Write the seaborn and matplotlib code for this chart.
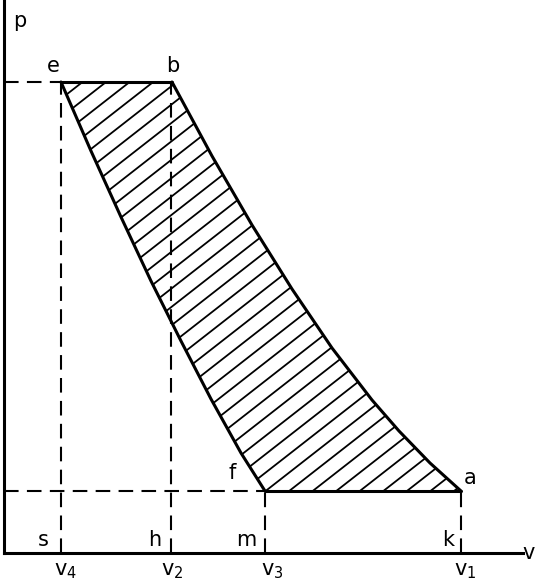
import numpy as np
import pandas as pd
import seaborn as sns
from matplotlib import pyplot as plt
from matplotlib.patches import Polygon

# pressure / volume levels (diagram units)
v4, v2, v3, v1 = 57, 167, 261, 457
p_high, p_low = 471, 62

# curve e -> f
ef_v = [57, 87, 117, 147, 177, 207, 237, 261]
ef_p = [471, 402, 336, 272, 212, 154, 100, 62]

# curve b -> a
ba_v = [168, 208, 248, 288, 328, 368, 395, 426, 457]
ba_p = [471, 397, 328, 264, 205, 153, 122, 90, 62]

point_labels = ['e', 'b', 'f', 'a']
foot_labels = ['s', 'h', 'm', 'k']
vol_labels = ['$\\mathregular{v_4}$', '$\\mathregular{v_2}$', '$\\mathregular{v_3}$', '$\\mathregular{v_1}$']

sns.set_style('white')
plt.rcParams['font.family'] = ['DejaVu Sans']
plt.rcParams['text.color'] = 'black'

fig = plt.figure(figsize=(5.36, 5.85), dpi=100)
ax = fig.add_axes([4 / 536, 32 / 585, 519 / 536, 553 / 585])
ax.set_xlim(0, 519)
ax.set_ylim(0, 553)

lw = 2.2
dlw = 1.5
dash = (0, (7, 4))

# hatched area
ring_v = [v4] + ba_v + ef_v[::-1]
ring_p = [p_high] + ba_p + ef_p[::-1]
poly = Polygon(np.column_stack([ring_v, ring_p]), closed=True, facecolor='none', edgecolor='none')
ax.add_patch(poly)
ang = np.tan(np.radians(38))
step = 14.5 / np.cos(np.radians(38))
xs = np.array([0, 519])
for c in np.arange(-400, 600, step):
    ln, = ax.plot(xs, ang * xs + c, color='black', lw=1.3)
    ln.set_clip_path(poly)

# dashed guide lines
ax.plot([0, v4], [p_high, p_high], color='black', lw=dlw, ls=dash)
ax.plot([0, v3], [p_low, p_low], color='black', lw=dlw, ls=dash)
ax.plot([v4, v4], [0, p_high], color='black', lw=dlw, ls=dash)
ax.plot([v2, v2], [0, p_high], color='black', lw=dlw, ls=dash)
ax.plot([v3, v3], [0, p_low], color='black', lw=dlw, ls=dash)
ax.plot([v1, v1], [0, p_low], color='black', lw=dlw, ls=dash)

# cycle outline
curves = pd.DataFrame({'v': ef_v, 'p': ef_p})
sns.lineplot(data=curves, x='v', y='p', sort=False, estimator=None, color='black', lw=lw, ax=ax)
curves = pd.DataFrame({'v': ba_v, 'p': ba_p})
sns.lineplot(data=curves, x='v', y='p', sort=False, estimator=None, color='black', lw=lw, ax=ax)
ax.plot([v4, ba_v[0]], [p_high, p_high], color='black', lw=lw, solid_capstyle='round')
ax.plot([ef_v[-1], v1], [p_low, p_low], color='black', lw=lw, solid_capstyle='round')

# axes
for s in ['top', 'right']:
    ax.spines[s].set_visible(False)
for s in ['left', 'bottom']:
    ax.spines[s].set_linewidth(2.2)
    ax.spines[s].set_color('black')
ax.set_xticks([])
ax.set_yticks([])
ax.set_xlabel('')
ax.set_ylabel('')

fs = 15
ax.text(9, 532, 'p', fontsize=fs, ha='left', va='center')
fig.text(535 / 536, 32 / 585, 'v', fontsize=fs, ha='right', va='center')

pt_pos = [(49, 487), (169, 487), (228, 80), (466, 75)]
for lab, (x, y) in zip(point_labels, pt_pos):
    ax.text(x, y, lab, fontsize=fs, ha='center', va='center')

for lab, x in zip(foot_labels, [v4 - 18, v2 - 16, v3 - 19, v1 - 13]):
    ax.text(x, 13, lab, fontsize=fs, ha='center', va='center')

for lab, x in zip(vol_labels, [v4 + 4, v2 + 1, v3 + 7, v1 + 4]):
    ax.text(x, -18, lab, fontsize=fs, ha='center', va='center', clip_on=False)

fig.savefig('out.png', dpi=100, facecolor='white')
